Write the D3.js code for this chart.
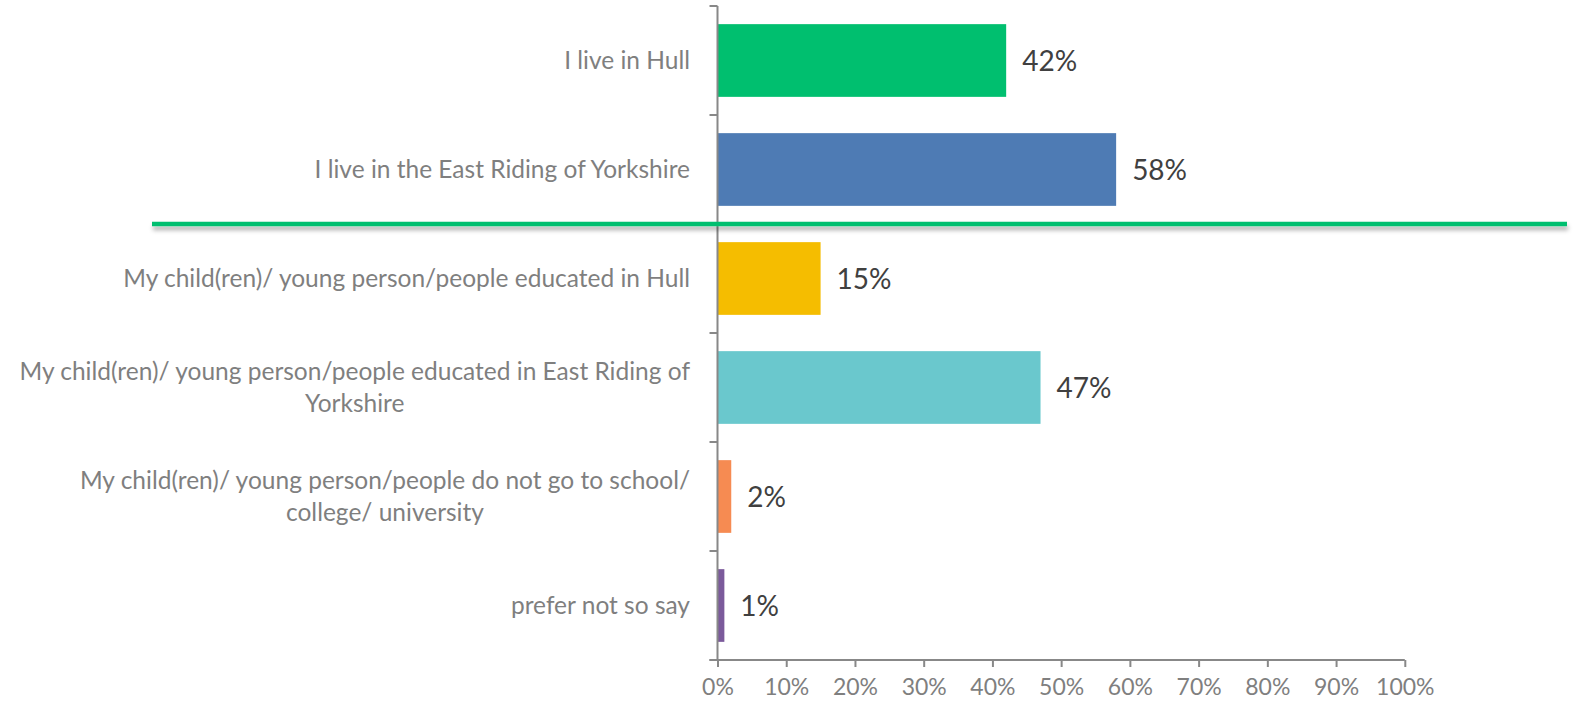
<!DOCTYPE html>
<html>
<head>
<meta charset="utf-8">
<script src="https://cdn.jsdelivr.net/npm/d3@7"></script>
<style>
  html, body { margin: 0; padding: 0; background: #fff; }
  svg { display: block; }
</style>
</head>
<body>
<svg id="chart" width="1573" height="706"></svg>
<script>
// Survey responses: where respondents live / where their children are educated
const categories = [
  ["I live in Hull"],
  ["I live in the East Riding of Yorkshire"],
  ["My child(ren)/ young person/people educated in Hull"],
  ["My child(ren)/ young person/people educated in East Riding of", "Yorkshire"],
  ["My child(ren)/ young person/people do not go to school/", "college/ university"],
  ["prefer not so say"]
];
const values = [42, 58, 15, 47, 2, 1];
const barColors = ["#00bf6f", "#4e7bb4", "#f5bd00", "#6ac8cd", "#f68b52", "#7b5a9b"];
const xTicks = [0, 10, 20, 30, 40, 50, 60, 70, 80, 90, 100];
const dividerAfter = 2; // separator drawn between the "live" and "educated" groups

const svg = d3.select("#chart");
const font = "Lato, 'Open Sans', sans-serif";
const axisColor = "#888888";

const x = d3.scaleLinear().domain([0, 100]).range([717.5, 1404.8]);
const y = d3.scaleBand().domain(d3.range(categories.length)).range([6, 660])
  .paddingInner(0.333).paddingOuter(0.1665);
const step = y.step();
const y0 = y.range()[0];

// Soft shadow under the group separator
const defs = svg.append("defs");
const f = defs.append("filter").attr("id", "shadow")
  .attr("filterUnits", "userSpaceOnUse")
  .attr("x", 0).attr("y", 0).attr("width", 1573).attr("height", 706);
f.append("feDropShadow").attr("dx", 1).attr("dy", 4).attr("stdDeviation", 2)
  .attr("flood-color", "#000").attr("flood-opacity", 0.3);

// Bars
svg.append("g").selectAll("rect").data(values).join("rect")
  .attr("x", x(0))
  .attr("y", (d, i) => y(i))
  .attr("width", d => x(d) - x(0))
  .attr("height", y.bandwidth())
  .attr("fill", (d, i) => barColors[i]);

// Value labels
svg.append("g").selectAll("text").data(values).join("text")
  .attr("x", d => x(d) + 16)
  .attr("y", (d, i) => y(i) + y.bandwidth() / 2)
  .attr("dy", "0.36em")
  .attr("font-family", font)
  .attr("font-size", 28)
  .attr("fill", "#404040")
  .text(d => d + "%");

// Y axis line with tick marks at band boundaries
const yAxis = svg.append("g");
yAxis.append("line")
  .attr("x1", x(0)).attr("x2", x(0))
  .attr("y1", y0).attr("y2", 660)
  .attr("stroke", axisColor).attr("stroke-width", 2);
yAxis.selectAll("line.tick").data(d3.range(categories.length + 1)).join("line")
  .attr("class", "tick")
  .attr("x1", x(0) - 8).attr("x2", x(0))
  .attr("y1", i => y0 + i * step).attr("y2", i => y0 + i * step)
  .attr("stroke", axisColor).attr("stroke-width", 2);

// X axis
const xAxis = d3.axisBottom(x).tickValues(xTicks).tickFormat(d => d + "%")
  .tickSizeOuter(0).tickSizeInner(7).tickPadding(12);
const gx = svg.append("g").attr("transform", "translate(0,660)").call(xAxis);
gx.select(".domain").attr("stroke", axisColor).attr("stroke-width", 2)
  .attr("d", `M${x(0) - 8},0H${x(100)}`);
gx.selectAll(".tick line").attr("stroke", axisColor).attr("stroke-width", 2);
gx.selectAll(".tick text")
  .attr("font-family", font).attr("font-size", 23).attr("fill", "#7f7f7f");

// Category labels: right-aligned block, wrapped lines centred within the block
const labelRight = 690;
const lineH = 32;
const catG = svg.append("g");
categories.forEach((lines, i) => {
  const cy = y0 + step * (i + 0.5);
  const t = catG.append("text")
    .attr("font-family", font).attr("font-size", 24.5).attr("fill", "#7f7f7f")
    .attr("text-anchor", "middle");
  lines.forEach((ln, k) => {
    t.append("tspan").attr("y", cy + (k - (lines.length - 1) / 2) * lineH)
      .attr("dy", "0.36em").text(ln);
  });
  const w = d3.max(t.selectAll("tspan").nodes(), n => n.getComputedTextLength());
  t.selectAll("tspan").attr("x", labelRight - w / 2);
});

// Separator between groups, on the band boundary
const sepY = y0 + step * dividerAfter;
svg.append("line")
  .attr("x1", 152).attr("x2", 1567)
  .attr("y1", sepY).attr("y2", sepY)
  .attr("stroke", "#00bf6f").attr("stroke-width", 4.5)
  .attr("filter", "url(#shadow)");
</script>
</body>
</html>
